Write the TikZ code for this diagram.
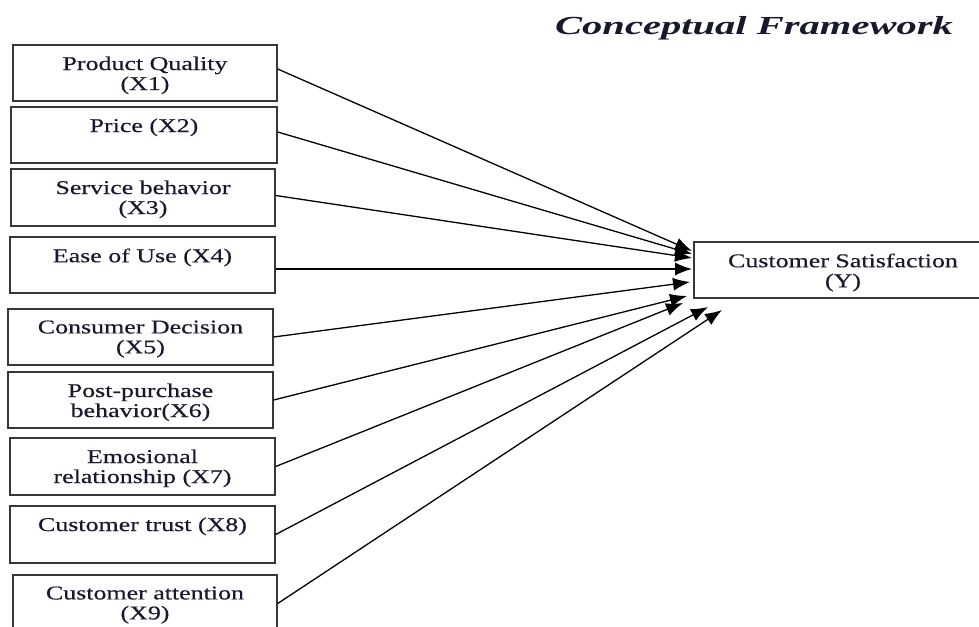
\documentclass[tikz,border=0pt]{standalone}
\usepackage{fontspec}
\setmainfont{Liberation Serif}[FakeStretch=1.33,FakeBold=0.4]
\newfontfamily\titlefont{Liberation Serif}[FakeStretch=1.56]
\usetikzlibrary{arrows.meta}
\definecolor{boxc}{RGB}{55,55,55}
\definecolor{txtc}{RGB}{25,25,45}
\begin{document}
\begin{tikzpicture}[x=1pt,y=-1pt,
  box/.style={draw=boxc,line width=1.4pt,inner sep=0pt,minimum height=56pt},
  txt/.style={font=\fontsize{19.5}{20}\selectfont,align=center,inner sep=0pt,anchor=north,text=txtc,yshift=-12pt},
  conn/.style={line width=1.3pt,-{Latex[length=17pt,width=13pt]}}]
\useasboundingbox (0,0) rectangle (979,626);
\clip (0,0) rectangle (979,626);
% title
\node[anchor=base,inner sep=0pt,text=txtc,font=\titlefont\bfseries\itshape\fontsize{26}{26}\selectfont] (title) at (754,35) {Conceptual Framework};
% boxes
\node[box,minimum width=264pt] (b1) at (145,73) {};
\node[box,minimum width=266pt] (b2) at (144,135) {};
\node[box,minimum width=264pt,minimum height=57pt] (b3) at (143,197.5) {};
\node[box,minimum width=265pt] (b4) at (142.5,265) {};
\node[box,minimum width=265pt] (b5) at (140.5,337) {};
\node[box,minimum width=265pt] (b6) at (140.5,400) {};
\node[box,minimum width=265pt,minimum height=57pt] (b7) at (142.5,466.5) {};
\node[box,minimum width=265pt,minimum height=57pt] (b8) at (142.5,534.5) {};
\node[box,minimum width=264pt,minimum height=57pt] (b9) at (145,603.5) {};
\node[box,minimum width=298pt] (y) at (843,270) {};
% texts
\node[txt] (t1) at (b1.north) {Product Quality\\(X1)};
\node[txt] (t2) at (b2.north) {Price (X2)};
\node[txt] (t3) at (b3.north) {Service behavior\\(X3)};
\node[txt] (t4) at (b4.north) {Ease of Use (X4)};
\node[txt] (t5) at (b5.north) {Consumer Decision\\(X5)};
\node[txt] (t6) at (b6.north) {Post-purchase\\behavior(X6)};
\node[txt] (t7) at (b7.north) {Emosional\\relationship (X7)};
\node[txt] (t8) at (b8.north) {Customer trust (X8)};
\node[txt] (t9) at (b9.north) {Customer attention\\(X9)};
\node[txt] (ty) at (y.north) {Customer Satisfaction\\(Y)};
% arrow end points
\coordinate (e1) at (692,251);
\coordinate (e2) at (692,254);
\coordinate (e3) at (692,258);
\coordinate (e4) at (692,269);
\coordinate (e5) at (690,282);
\coordinate (e6) at (687,296);
\coordinate (e7) at (683,303);
\coordinate (e8) at (708,307);
\coordinate (e9) at (722,310);
% connectors
\draw[conn] (b1.east) ++(0,-4) -- (e1);
\draw[conn] (b2.east) ++(0,-3) -- (e2);
\draw[conn] (b3.east) ++(0,-2) -- (e3);
\draw[conn] (b4.east) ++(0,4) -- (e4);
\draw[conn] (b5.east) -- (e5);
\draw[conn] (b6.east) -- (e6);
\draw[conn] (b7.east) -- (e7);
\draw[conn] (b8.east) -- (e8);
\draw[conn] (b9.east) -- (e9);
\end{tikzpicture}
\end{document}
